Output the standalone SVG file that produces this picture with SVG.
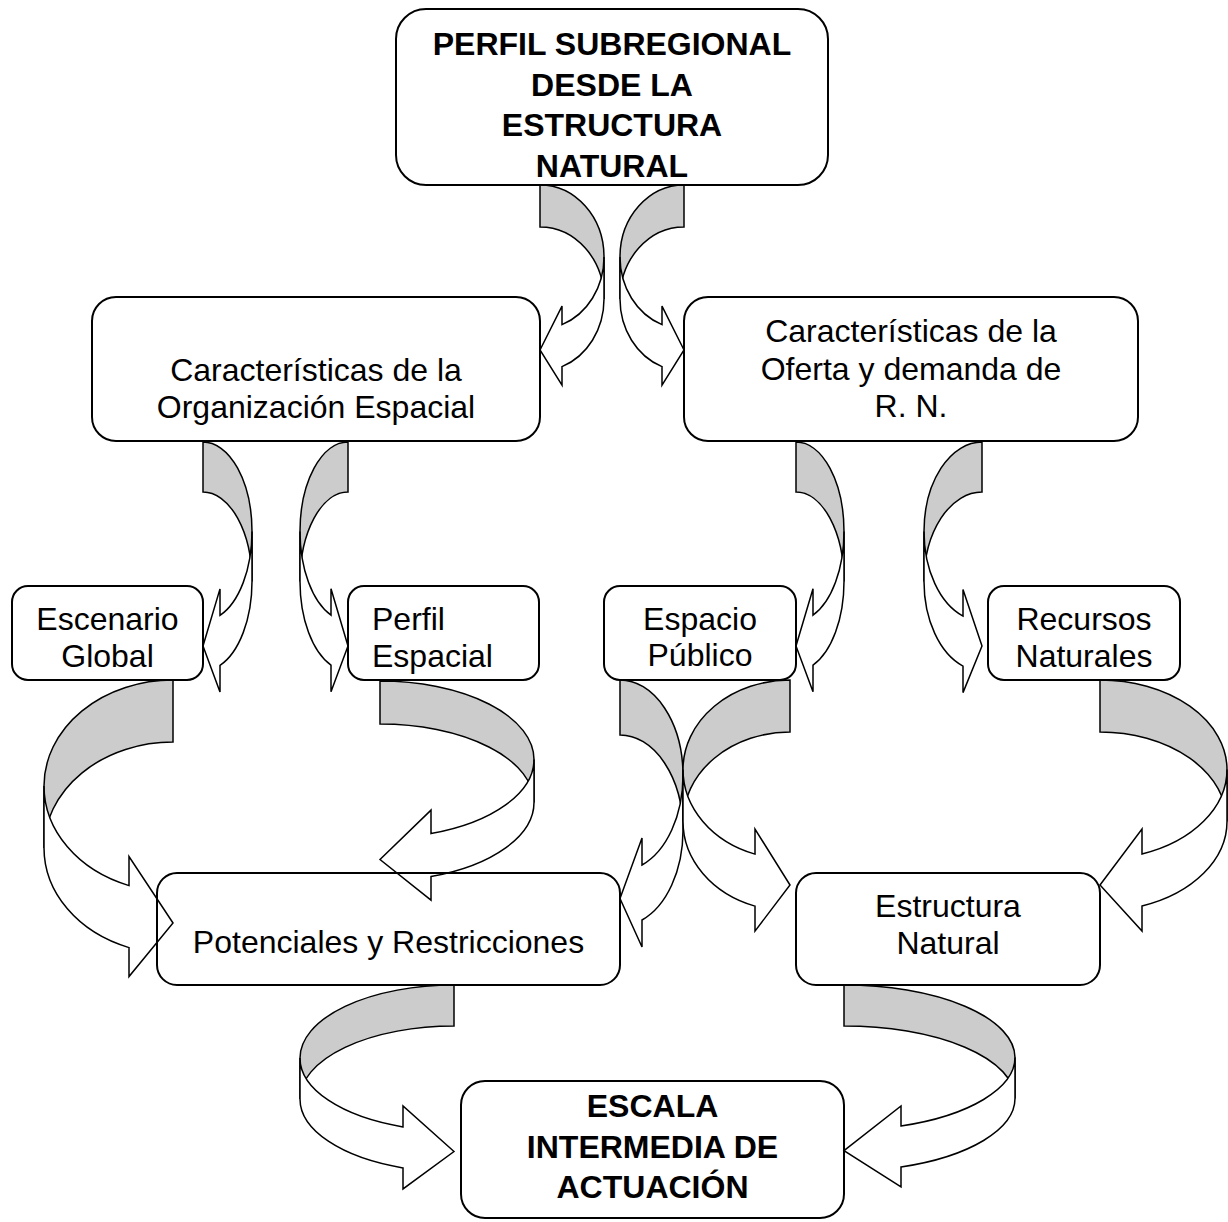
<svg xmlns="http://www.w3.org/2000/svg" width="1228" height="1222" viewBox="0 0 1228 1222">
<style>
.box{fill:none;stroke:#000;stroke-width:2}
.sh{fill:#cccccc;stroke:#000;stroke-width:1.5;stroke-linejoin:miter}
.wh{fill:#ffffff;stroke:#000;stroke-width:1.5;stroke-linejoin:miter}
text{font-family:"Liberation Sans",Arial,sans-serif;font-size:32px;fill:#000;text-anchor:middle}
.b{font-weight:bold}
.l{text-anchor:start}
</style>
<rect x="0" y="0" width="1228" height="1222" fill="#fff"/>
<g id="connectors">
  <g id="a1"><path class="sh" d="M540,185 A64,72 0 0 1 604,257 L604,299 A64,72 0 0 0 540,227 Z"/><path class="wh" d="M540,350 L562,306.1 L562,324.6 A64,72 0 0 0 604,257 L604,299 A64,72 0 0 1 562,366.6 L562,385.1 Z"/></g>
  <g id="a2"><path class="sh" d="M684,185 A64,72 0 0 0 620,257 L620,299 A64,72 0 0 1 684,227 Z"/><path class="wh" d="M684,350 L662,306.1 L662,324.6 A64,72 0 0 1 620,257 L620,299 A64,72 0 0 0 662,366.6 L662,385.1 Z"/></g>
  <g id="a3"><path class="sh" d="M203,442 A49,89.5 0 0 1 252,531.5 L252,581.5 A49,89.5 0 0 0 203,492 Z"/><path class="wh" d="M203,646 L220,588.9 L220,615.4 A49,89.5 0 0 0 252,531.5 L252,581.5 A49,89.5 0 0 1 220,665.4 L220,691.9 Z"/></g>
  <g id="a4"><path class="sh" d="M348,442 A48,89.5 0 0 0 300,531.5 L300,581.5 A48,89.5 0 0 1 348,492 Z"/><path class="wh" d="M348,646 L331,588.7 L331,615.2 A48,89.5 0 0 1 300,531.5 L300,581.5 A48,89.5 0 0 0 331,665.2 L331,691.7 Z"/></g>
  <g id="a5"><path class="sh" d="M796,442 A48,89.5 0 0 1 844,531.5 L844,581.5 A48,89.5 0 0 0 796,492 Z"/><path class="wh" d="M796,646 L813,588.7 L813,615.2 A48,89.5 0 0 0 844,531.5 L844,581.5 A48,89.5 0 0 1 813,665.2 L813,691.7 Z"/></g>
  <g id="a6"><path class="sh" d="M982,442 A58,89.5 0 0 0 924,531.5 L924,581.5 A58,89.5 0 0 1 982,492 Z"/><path class="wh" d="M982,646 L963,589.6 L963,616.1 A58,89.5 0 0 1 924,531.5 L924,581.5 A58,89.5 0 0 0 963,666.1 L963,692.6 Z"/></g>
  <g id="a7"><path class="sh" d="M173,680 A129,106 0 0 0 44,786 L44,848 A129,106 0 0 1 173,742 Z"/><path class="wh" d="M173,923 L129,856.6 L129,885.6 A129,106 0 0 1 44,786 L44,848 A129,106 0 0 0 129,947.6 L129,976.6 Z"/></g>
  <g id="a8"><path class="sh" d="M380,681 A154,78.5 0 0 1 534,759.5 L534,802.5 A154,78.5 0 0 0 380,724 Z"/><path class="wh" d="M380,859.5 L431,810.1 L431,833.6 A154,78.5 0 0 0 534,759.5 L534,802.5 A154,78.5 0 0 1 431,876.6 L431,900.1 Z"/></g>
  <g id="a9"><path class="sh" d="M620,680 A63,95.5 0 0 1 683,775.5 L683,830.5 A63,95.5 0 0 0 620,735 Z"/><path class="wh" d="M620,898.5 L642,838 L642,865 A63,95.5 0 0 0 683,775.5 L683,830.5 A63,95.5 0 0 1 642,920 L642,947 Z"/></g>
  <g id="a10"><path class="sh" d="M790,680 A107,89.5 0 0 0 683,769.5 L683,821.5 A107,89.5 0 0 1 790,732 Z"/><path class="wh" d="M790,885 L755,829.1 L755,854.1 A107,89.5 0 0 1 683,769.5 L683,821.5 A107,89.5 0 0 0 755,906.1 L755,931.1 Z"/></g>
  <g id="a11"><path class="sh" d="M1100,680 A127,89.5 0 0 1 1227,769.5 L1227,821.5 A127,89.5 0 0 0 1100,732 Z"/><path class="wh" d="M1100,885 L1142,829 L1142,854 A127,89.5 0 0 0 1227,769.5 L1227,821.5 A127,89.5 0 0 1 1142,906 L1142,931 Z"/></g>
  <g id="a12"><path class="sh" d="M454,985 A154,73 0 0 0 300,1058 L300,1099 A154,73 0 0 1 454,1026 Z"/><path class="wh" d="M454,1151.5 L403,1105.9 L403,1126.9 A154,73 0 0 1 300,1058 L300,1099 A154,73 0 0 0 403,1167.9 L403,1188.9 Z"/></g>
  <g id="a13"><path class="sh" d="M844,985 A171,72.6 0 0 1 1015,1057.6 L1015,1098.6 A171,72.6 0 0 0 844,1026 Z"/><path class="wh" d="M844,1150.7 L901,1106 L901,1126 A171,72.6 0 0 0 1015,1057.6 L1015,1098.6 A171,72.6 0 0 1 901,1167 L901,1187 Z"/></g>
</g>
<g id="title"><rect class="box" x="396" y="9" width="432" height="176" rx="30"/>
  <text class="b" x="612" y="55">PERFIL SUBREGIONAL</text><text class="b" x="612" y="95.5">DESDE LA</text><text class="b" x="612" y="136">ESTRUCTURA</text><text class="b" x="612" y="176.5">NATURAL</text></g>
<g id="org"><rect class="box" x="92" y="297" width="448" height="144" rx="24"/>
  <text x="316" y="381">Características de la</text><text x="316" y="418">Organización Espacial</text></g>
<g id="oferta"><rect class="box" x="684" y="297" width="454" height="144" rx="24"/>
  <text x="911" y="342">Características de la</text><text x="911" y="380">Oferta y demanda de</text><text x="911" y="417">R. N.</text></g>
<g id="escenario"><rect class="box" x="12" y="586" width="191" height="94" rx="16"/>
  <text x="107.5" y="630">Escenario</text><text x="107.5" y="667">Global</text></g>
<g id="perfil"><rect class="box" x="348" y="586" width="191" height="94" rx="16"/>
  <text class="l" x="372" y="630">Perfil</text><text class="l" x="372" y="667">Espacial</text></g>
<g id="espacio"><rect class="box" x="604" y="586" width="192" height="94" rx="16"/>
  <text x="700" y="630">Espacio</text><text x="700" y="666">Público</text></g>
<g id="recursos"><rect class="box" x="988" y="586" width="192" height="94" rx="16"/>
  <text x="1084" y="630">Recursos</text><text x="1084" y="667">Naturales</text></g>
<g id="potenciales"><rect class="box" x="157" y="873" width="463" height="112" rx="20"/>
  <text x="388.5" y="953">Potenciales y Restricciones</text></g>
<g id="estructura"><rect class="box" x="796" y="873" width="304" height="112" rx="20"/>
  <text x="948" y="917">Estructura</text><text x="948" y="954">Natural</text></g>
<g id="escala"><rect class="box" x="461" y="1081" width="383" height="137" rx="24"/>
  <text class="b" x="652.5" y="1117">ESCALA</text><text class="b" x="652.5" y="1158">INTERMEDIA DE</text><text class="b" x="652.5" y="1198">ACTUACIÓN</text></g>
</svg>
